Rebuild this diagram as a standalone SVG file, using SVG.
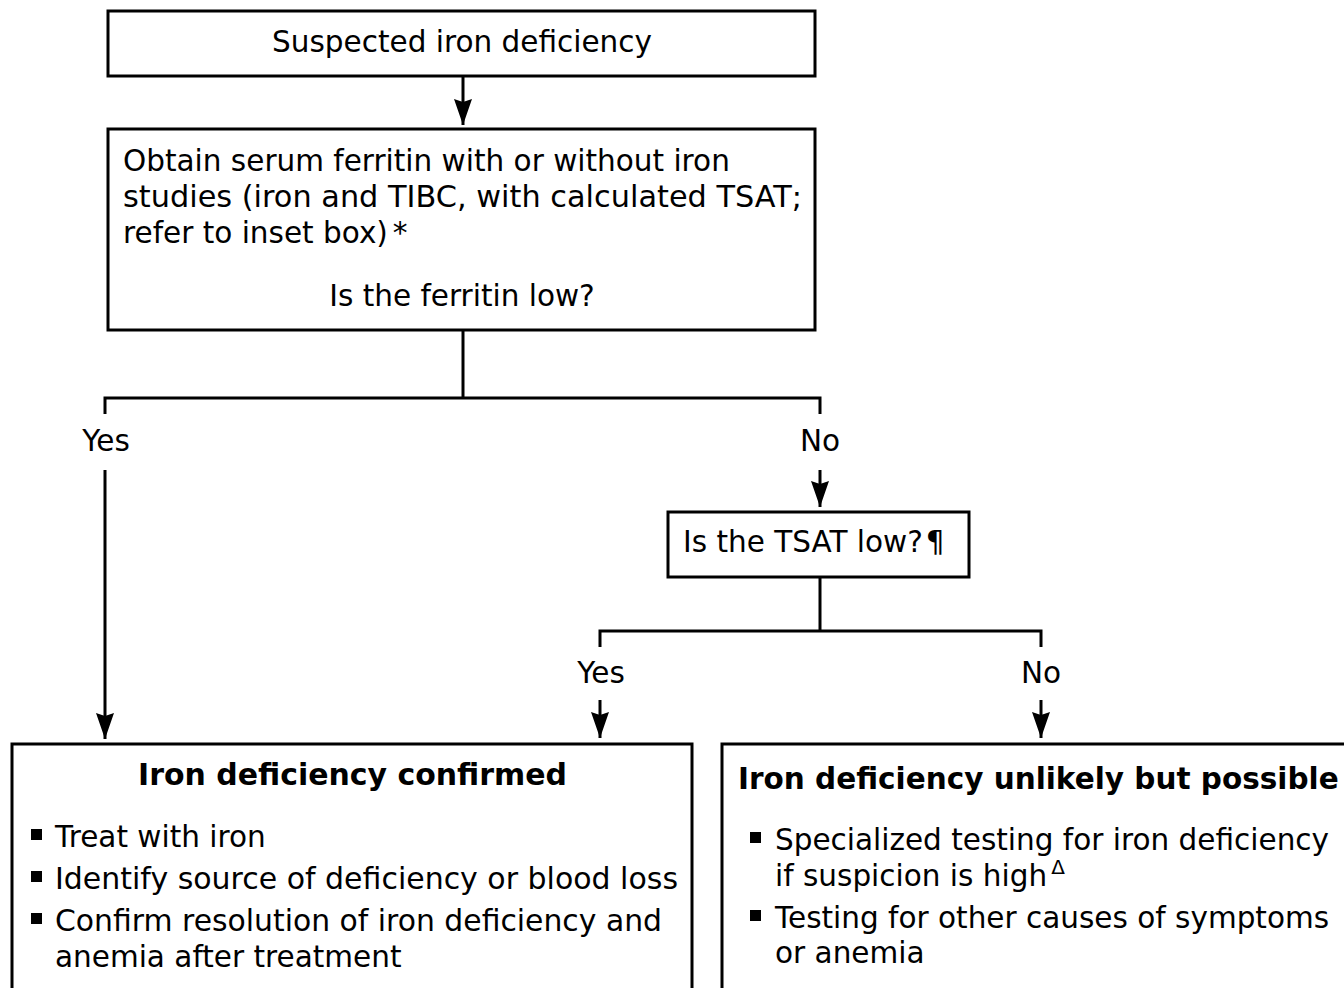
<svg xmlns="http://www.w3.org/2000/svg" width="1344" height="988" viewBox="0 0 1344 988">
<style>
.box{fill:#fff;stroke:#000;stroke-width:3}
.ln{fill:none;stroke:#000;stroke-width:3}
.t{font-family:"DejaVu Sans","Verdana",sans-serif;font-size:29.5px;fill:#000}
.b{font-weight:bold}
.m{text-anchor:middle}
</style>
<defs>
<marker id="ah" viewBox="0 0 26 18" refX="26" refY="9" markerWidth="26" markerHeight="18" markerUnits="userSpaceOnUse" orient="auto">
<path d="M0,0 L26,9 L0,18 L3,9 z" fill="#000"/>
</marker>
</defs>
<rect width="1344" height="988" fill="#fff"/>
<g id="connectors">
<line class="ln" x1="463" y1="76" x2="463" y2="125" marker-end="url(#ah)"/>
<polyline class="ln" points="463,330 463,398"/>
<polyline class="ln" points="105,414 105,398 820,398 820,414"/>
<line class="ln" x1="105" y1="470" x2="105" y2="739" marker-end="url(#ah)"/>
<line class="ln" x1="820" y1="470" x2="820" y2="507" marker-end="url(#ah)"/>
<polyline class="ln" points="820,577 820,631"/>
<polyline class="ln" points="600,647 600,631 1041,631 1041,647"/>
<line class="ln" x1="600" y1="700" x2="600" y2="738" marker-end="url(#ah)"/>
<line class="ln" x1="1041" y1="700" x2="1041" y2="738" marker-end="url(#ah)"/>
<text class="t m" x="106" y="451">Yes</text>
<text class="t m" x="820" y="451">No</text>
<text class="t m" x="601" y="683">Yes</text>
<text class="t m" x="1041" y="683">No</text>
</g>
<g id="n1">
<rect class="box" x="108" y="11" width="707" height="65"/>
<text class="t m" x="462" y="52">Suspected iron deficiency</text>
</g>
<g id="n2">
<rect class="box" x="108" y="129" width="707" height="201"/>
<text class="t" x="123" y="171">Obtain serum ferritin with or without iron</text>
<text class="t" x="123" y="207" textLength="679" lengthAdjust="spacingAndGlyphs">studies (iron and TIBC, with calculated TSAT;</text>
<text class="t" x="123" y="243">refer to inset box)<tspan dx="5">*</tspan></text>
<text class="t m" x="462" y="306">Is the ferritin low?</text>
</g>
<g id="n3">
<rect class="box" x="668" y="512" width="301" height="65"/>
<text class="t" x="683" y="552">Is the TSAT low?<tspan dx="3">¶</tspan></text>
</g>
<g id="n4">
<rect class="box" x="12" y="744" width="680" height="260"/>
<text class="t b" x="138" y="785" textLength="429" lengthAdjust="spacingAndGlyphs">Iron deficiency confirmed</text>
<rect x="31" y="829" width="11" height="11"/>
<text class="t" x="55" y="847">Treat with iron</text>
<rect x="31" y="871" width="11" height="11"/>
<text class="t" x="55" y="889" textLength="623" lengthAdjust="spacingAndGlyphs">Identify source of deficiency or blood loss</text>
<rect x="31" y="913" width="11" height="11"/>
<text class="t" x="55" y="931" textLength="607" lengthAdjust="spacingAndGlyphs">Confirm resolution of iron deficiency and</text>
<text class="t" x="55" y="967">anemia after treatment</text>
</g>
<g id="n5">
<rect class="box" x="722" y="744" width="700" height="260"/>
<text class="t b" x="738" y="789">Iron deficiency unlikely but possible</text>
<rect x="750" y="832" width="11" height="11"/>
<text class="t" x="775" y="850">Specialized testing for iron deficiency</text>
<text class="t" x="775" y="886">if suspicion is high<tspan font-size="20" dy="-12" dx="4">Δ</tspan></text>
<rect x="750" y="910" width="11" height="11"/>
<text class="t" x="775" y="928">Testing for other causes of symptoms</text>
<text class="t" x="775" y="963">or anemia</text>
</g>
</svg>
